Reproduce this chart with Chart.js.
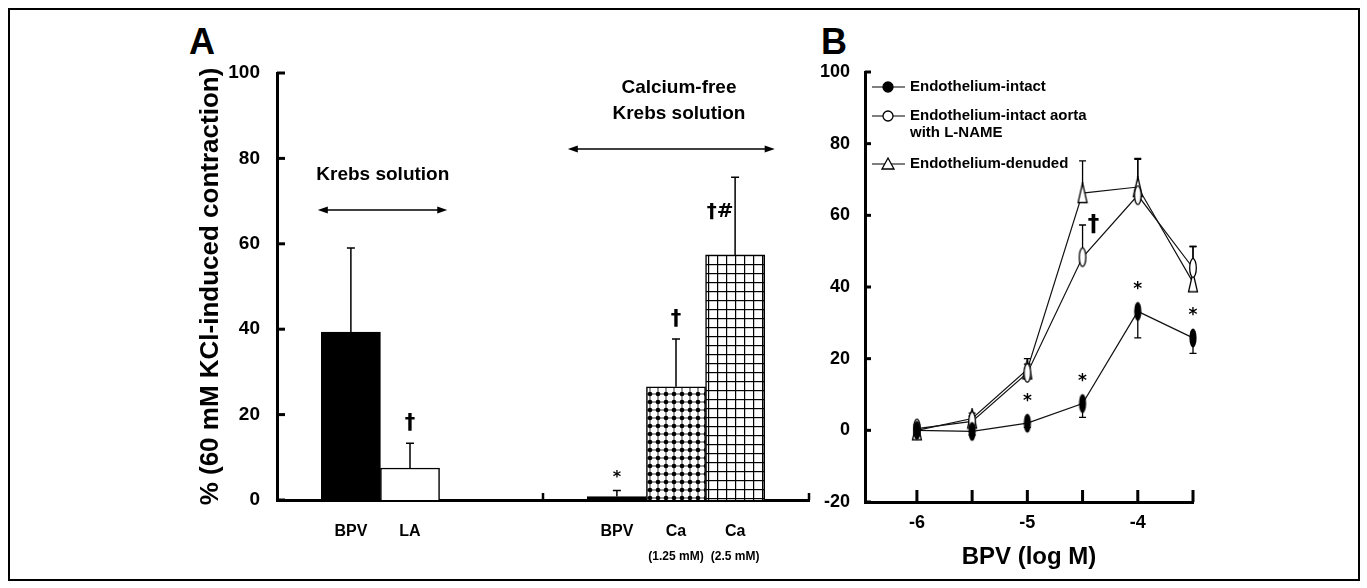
<!DOCTYPE html>
<html>
<head>
<meta charset="utf-8">
<script src="https://cdn.jsdelivr.net/npm/chart.js@4.4.1/dist/chart.umd.min.js"></script>
<style>
body { margin: 0; background: #fff; width: 1367px; height: 588px; position: relative; overflow: hidden; font-family: "Liberation Sans", Arial, sans-serif; }
#frame { position: absolute; left: 8px; top: 8px; width: 1352px; height: 573px; border: 2px solid #000; box-sizing: border-box; }
canvas { position: absolute; }
#chartA { left: 150px; top: 30px; }
#chartB { left: 820px; top: 30px; }
.panel { position: absolute; font-weight: bold; font-size: 36px; line-height: 1; }
</style>
</head>
<body>
<div id="frame"></div>
<div class="panel" style="left:189px;top:24px">A</div>
<div class="panel" style="left:821px;top:24px">B</div>
<canvas id="chartA" width="680" height="550"></canvas>
<canvas id="chartB" width="400" height="550"></canvas>
<script>
// panel A : bars
var labelsA = ['BPV', 'LA', 'BPV', 'Ca', 'Ca'];
var subLabelsA = ['', '', '', '(1.25 mM)', '(2.5 mM)'];
var groupA = [0, 0, 1, 1, 1];
var meanA = [39.3, 7.5, 0.8, 26.5, 57.4];
var semA = [19.7, 5.8, 1.4, 11.2, 18.2];
var signA = ['', '\u2020', '*', '\u2020', '\u2020#'];

// panel B : concentration-response
var doseB = [-6, -5.5, -5, -4.5, -4, -3.5];
var doseLabelsB = [-6, -5, -4];
var legendB = ['Endothelium-intact', 'Endothelium-intact aorta\nwith L-NAME', 'Endothelium-denuded'];
var intactB = [0, -0.3, 2, 7.5, 33.2, 25.8];
var intactErrB = [1, 1, 1.2, 3.9, 7.4, 4.3];
var lnameB = [0.5, 2.5, 16, 48.3, 65.6, 45.3];
var lnameErrB = [1, 1.5, 2.5, 9, 10, 6];
var denudedB = [0, 3.3, 17, 66.2, 67.9, 41.3];
var denudedErrB = [1, 1.5, 3, 9, 8, 10];
var starsB = ['', '', '*', '*', '*', '*'];
var daggerB = ['', '', '', '\u2020', '', ''];

var FAM = '"Liberation Sans", Arial, sans-serif';
function font(size, w) { return (w || 'bold') + ' ' + size + 'px ' + FAM; }

// bar slots: each group is 4.5 slots wide, bars start 0.75 slot in
var posA = labelsA.map(function (_, i) {
  return groupA[i] * 4.5 + 1.25 + (i - groupA.indexOf(groupA[i]));
});

function makeCanvas(w, h, draw) {
  var c = document.createElement('canvas');
  c.width = w; c.height = h;
  draw(c.getContext('2d'), w, h);
  return c;
}

function dotPattern() {
  var c = makeCanvas(8, 8, function (g) {
    g.fillStyle = '#fff'; g.fillRect(0, 0, 8, 8);
    g.fillStyle = '#000';
    g.fillRect(0, 3.6, 8, 0.8); g.fillRect(3.6, 0, 0.8, 8);
    g.beginPath(); g.arc(4, 4, 2.3, 0, Math.PI * 2); g.fill();
  });
  return document.createElement('canvas').getContext('2d').createPattern(c, 'repeat');
}
function gridPattern() {
  var c = makeCanvas(9, 9, function (g) {
    g.fillStyle = '#fff'; g.fillRect(0, 0, 9, 9);
    g.fillStyle = '#000';
    g.fillRect(0, 0, 9, 1.2); g.fillRect(0, 0, 1.2, 9);
  });
  return document.createElement('canvas').getContext('2d').createPattern(c, 'repeat');
}

function arrow(ctx, x1, x2, y) {
  ctx.lineWidth = 1.5;
  ctx.beginPath(); ctx.moveTo(x1 + 4, y); ctx.lineTo(x2 - 4, y); ctx.stroke();
  ctx.beginPath(); ctx.moveTo(x1, y); ctx.lineTo(x1 + 10, y - 3.5); ctx.lineTo(x1 + 10, y + 3.5); ctx.closePath(); ctx.fill();
  ctx.beginPath(); ctx.moveTo(x2, y); ctx.lineTo(x2 - 10, y - 3.5); ctx.lineTo(x2 - 10, y + 3.5); ctx.closePath(); ctx.fill();
}

// text centred on (x, cy) by glyph, not by em box
function sign(ctx, txt, x, cy, size) {
  ctx.font = 'bold ' + size + 'px "DejaVu Sans", ' + FAM;
  ctx.textAlign = 'center';
  ctx.textBaseline = 'alphabetic';
  var k = txt === '*' ? 0.55 : 0.32;
  ctx.fillText(txt, x, cy + k * size);
}

var panelA = {
  id: 'panelA',
  afterDatasetsDraw: function (chart) {
    var ctx = chart.ctx, x = chart.scales.x, y = chart.scales.y, area = chart.chartArea;
    ctx.save();
    ctx.strokeStyle = '#000'; ctx.fillStyle = '#000';

    // error bars
    ctx.lineWidth = 1.5;
    meanA.forEach(function (m, i) {
      var px = x.getPixelForValue(posA[i]);
      var y0 = y.getPixelForValue(m), y1 = y.getPixelForValue(m + semA[i]);
      ctx.beginPath();
      ctx.moveTo(px, y0); ctx.lineTo(px, y1);
      ctx.moveTo(px - 4, y1); ctx.lineTo(px + 4, y1);
      ctx.stroke();
      if (signA[i]) {
        if (i === 4) sign(ctx, signA[i], px - 15, y1 + 33, 20);
        else if (signA[i] === '*') sign(ctx, '*', px, y1 - 17, 16);
        else sign(ctx, signA[i], px, y1 - 21, 21);
      }
    });

    // sub labels under the categories
    ctx.font = font(12);
    ctx.textAlign = 'center'; ctx.textBaseline = 'middle';
    subLabelsA.forEach(function (s, i) {
      if (s) ctx.fillText(s, x.getPixelForValue(posA[i]), area.bottom + 57);
    });

    // inward ticks
    ctx.lineWidth = 3;
    y.ticks.forEach(function (t) {
      var py = y.getPixelForValue(t.value);
      ctx.beginPath(); ctx.moveTo(area.left, py); ctx.lineTo(area.left + 8, py); ctx.stroke();
    });
    ctx.lineWidth = 2.5;
    [4.5, 9].forEach(function (v) {
      var px = x.getPixelForValue(v);
      ctx.beginPath(); ctx.moveTo(px, area.bottom); ctx.lineTo(px, area.bottom - 7); ctx.stroke();
    });

    // solution brackets
    arrow(ctx, x.getPixelForValue(0.69), x.getPixelForValue(2.88), y.getPixelForValue(67.9));
    arrow(ctx, x.getPixelForValue(4.92), x.getPixelForValue(8.42), y.getPixelForValue(82.2));
    ctx.font = font(19);
    ctx.textAlign = 'center'; ctx.textBaseline = 'middle';
    ctx.fillText('Krebs solution', x.getPixelForValue(1.79), y.getPixelForValue(76.1));
    ctx.fillText('Calcium-free', x.getPixelForValue(6.8), y.getPixelForValue(96.5));
    ctx.fillText('Krebs solution', x.getPixelForValue(6.8), y.getPixelForValue(90.4));
    ctx.restore();
  }
};

new Chart(document.getElementById('chartA'), {
  type: 'bar',
  data: {
    datasets: [{
      data: posA.map(function (p, i) { return { x: p, y: meanA[i] }; }),
      backgroundColor: ['#000', '#fff', '#000', dotPattern(), gridPattern()],
      borderColor: '#000',
      borderWidth: 1.5,
      barPercentage: 1,
      categoryPercentage: 1
    }]
  },
  options: {
    responsive: false,
    animation: false,
    layout: { padding: { top: 43, right: 21 } },
    plugins: { legend: { display: false }, tooltip: { enabled: false } },
    scales: {
      x: {
        type: 'linear', min: 0, max: 9, offset: false,
        grid: { display: false, drawTicks: false },
        border: { color: '#000', width: 3 },
        afterBuildTicks: function (s) { s.ticks = posA.map(function (v) { return { value: v }; }); },
        afterFit: function (s) { s.height = 80; },
        ticks: {
          callback: function (v, i) { return labelsA[i]; },
          color: '#000', font: { family: FAM, size: 16, weight: 'bold' },
          padding: 22, maxRotation: 0, autoSkip: false
        }
      },
      y: {
        min: 0, max: 100,
        grid: { display: false, drawTicks: false },
        border: { color: '#000', width: 3 },
        afterFit: function (s) { s.width = 127; },
        ticks: { stepSize: 20, color: '#000', font: { family: FAM, size: 19, weight: 'bold' }, padding: 17 },
        title: {
          display: true, text: '% (60 mM KCl-induced contraction)', color: '#000',
          font: { family: FAM, size: 26, weight: 'bold' }, padding: { top: 45, bottom: 0 }
        }
      }
    }
  },
  plugins: [panelA]
});

// markers for panel B (tall narrow symbols as in the figure)
var filledMark = makeCanvas(10, 22, function (g) {
  g.beginPath(); g.ellipse(5, 11, 3.6, 9.6, 0, 0, Math.PI * 2);
  g.fillStyle = '#000'; g.fill();
});
var openMark = makeCanvas(10, 22, function (g) {
  g.beginPath(); g.ellipse(5, 11, 3.3, 9.3, 0, 0, Math.PI * 2);
  g.fillStyle = '#fff'; g.fill(); g.lineWidth = 1.3; g.strokeStyle = '#000'; g.stroke();
});
var triMark = makeCanvas(12, 22, function (g) {
  g.beginPath(); g.moveTo(6, 1); g.lineTo(10.5, 20.5); g.lineTo(1.5, 20.5); g.closePath();
  g.fillStyle = '#fff'; g.fill(); g.lineWidth = 1.3; g.strokeStyle = '#000'; g.stroke();
});

var seriesB = [
  { vals: intactB, err: intactErrB, dir: -1, mark: filledMark, sym: 'filled' },
  { vals: lnameB, err: lnameErrB, dir: 1, mark: openMark, sym: 'open' },
  { vals: denudedB, err: denudedErrB, dir: 1, mark: triMark, sym: 'tri' }
];

var panelB = {
  id: 'panelB',
  beforeDatasetsDraw: function (chart) {
    var ctx = chart.ctx, x = chart.scales.x, y = chart.scales.y;
    ctx.save();
    ctx.strokeStyle = '#000'; ctx.lineWidth = 1.3;
    seriesB.forEach(function (s) {
      doseB.forEach(function (d, i) {
        var px = x.getPixelForValue(d);
        var y0 = y.getPixelForValue(s.vals[i]), y1 = y.getPixelForValue(s.vals[i] + s.dir * s.err[i]);
        ctx.beginPath();
        ctx.moveTo(px, y0); ctx.lineTo(px, y1);
        ctx.moveTo(px - 3.5, y1); ctx.lineTo(px + 3.5, y1);
        ctx.stroke();
      });
    });
    ctx.restore();
  },
  afterDraw: function (chart) {
    var ctx = chart.ctx, x = chart.scales.x, y = chart.scales.y, area = chart.chartArea;
    ctx.save();
    ctx.strokeStyle = '#000'; ctx.fillStyle = '#000';

    // inward ticks
    ctx.lineWidth = 3;
    y.ticks.forEach(function (t) {
      var py = y.getPixelForValue(t.value);
      ctx.beginPath(); ctx.moveTo(area.left, py); ctx.lineTo(area.left + 6, py); ctx.stroke();
    });
    doseB.forEach(function (d) {
      var px = x.getPixelForValue(d);
      ctx.beginPath(); ctx.moveTo(px, area.bottom); ctx.lineTo(px, area.bottom - 12); ctx.stroke();
    });

    // significance marks
    doseB.forEach(function (d, i) {
      if (starsB[i]) sign(ctx, starsB[i], x.getPixelForValue(d), y.getPixelForValue(intactB[i]) - 27, 17);
      if (daggerB[i]) sign(ctx, daggerB[i], x.getPixelForValue(d) + 11, y.getPixelForValue(lnameB[i]) - 34, 23);
    });

    // legend
    var lx = area.left + 7, rows = [15, 44, 92];
    ctx.font = font(15);
    ctx.textAlign = 'left'; ctx.textBaseline = 'middle';
    seriesB.forEach(function (s, k) {
      var ly = area.top + rows[k];
      ctx.lineWidth = 1.2;
      ctx.beginPath(); ctx.moveTo(lx, ly); ctx.lineTo(lx + 33, ly); ctx.stroke();
      var cx = lx + 16;
      ctx.beginPath();
      if (s.sym === 'tri') {
        ctx.moveTo(cx, ly - 6); ctx.lineTo(cx + 6, ly + 5); ctx.lineTo(cx - 6, ly + 5); ctx.closePath();
      } else {
        ctx.arc(cx, ly, 5, 0, Math.PI * 2);
      }
      ctx.fillStyle = s.sym === 'filled' ? '#000' : '#fff';
      ctx.fill(); ctx.lineWidth = 1.3; ctx.stroke();
      ctx.fillStyle = '#000';
      legendB[k].split('\n').forEach(function (line, j) {
        ctx.fillText(line, lx + 38, ly + j * 17);
      });
    });
    ctx.restore();
  }
};

new Chart(document.getElementById('chartB'), {
  type: 'line',
  data: {
    datasets: seriesB.map(function (s, k) {
      return {
        label: legendB[k],
        data: doseB.map(function (d, i) { return { x: d, y: s.vals[i] }; }),
        borderColor: '#111',
        borderWidth: 1.2,
        pointStyle: s.mark,
        pointRadius: 6,
        fill: false,
        tension: 0,
        clip: false
      };
    })
  },
  options: {
    responsive: false,
    animation: false,
    layout: { padding: { top: 42, right: 27 } },
    plugins: { legend: { display: false }, tooltip: { enabled: false } },
    scales: {
      x: {
        type: 'linear', min: -6.47, max: -3.5,
        grid: { display: false, drawTicks: false },
        border: { color: '#000', width: 3 },
        afterBuildTicks: function (s) { s.ticks = doseLabelsB.map(function (v) { return { value: v }; }); },
        afterFit: function (s) { s.height = 78; },
        ticks: {
          color: '#000', font: { family: FAM, size: 18, weight: 'bold' }, padding: 10,
          callback: function (v) { return String(v); }
        },
        title: {
          display: true, text: 'BPV (log M)', color: '#000',
          font: { family: FAM, size: 24, weight: 'bold' }, padding: { top: 0, bottom: 8 }
        }
      },
      y: {
        min: -20, max: 100,
        grid: { display: false, drawTicks: false },
        border: { color: '#000', width: 3 },
        afterFit: function (s) { s.width = 45; },
        ticks: { stepSize: 20, color: '#000', font: { family: FAM, size: 18, weight: 'bold' }, padding: 15 }
      }
    }
  },
  plugins: [panelB]
});
</script>
</body>
</html>
